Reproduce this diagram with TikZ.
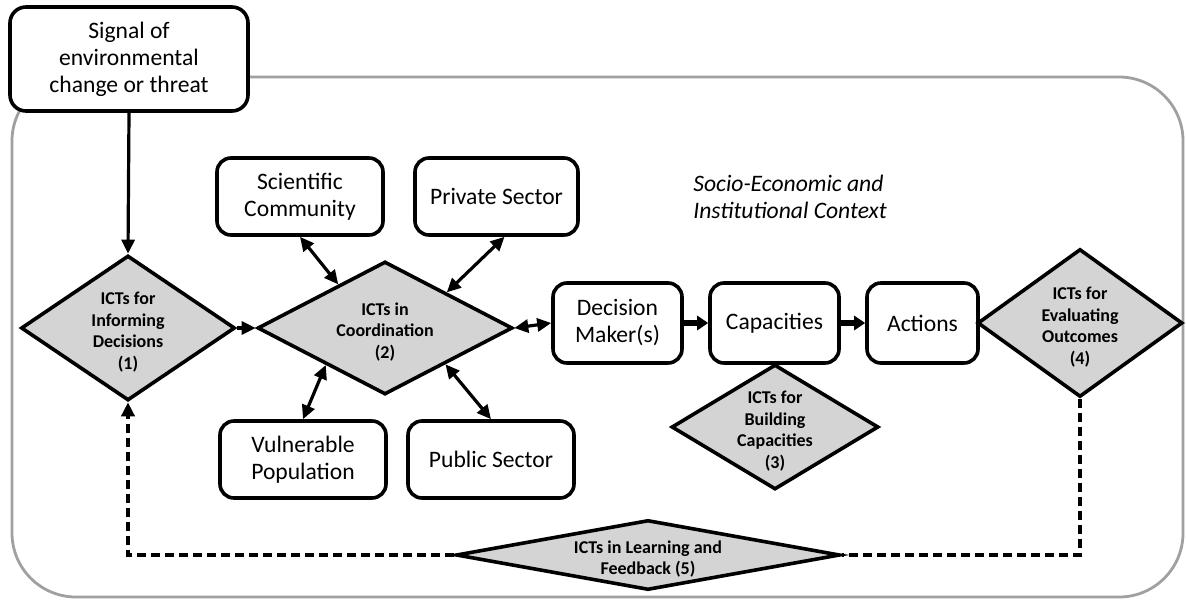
\documentclass[tikz,border=0pt]{standalone}
\usepackage{fontspec}
\setmainfont{Carlito}
\usetikzlibrary{shapes.geometric,arrows.meta}

\definecolor{diagray}{RGB}{212,212,212}
\definecolor{framegray}{RGB}{160,160,160}

% centred multi-line label that does not influence the size of its node
\newcommand{\dialabel}[1]{\smash{\raisebox{-0.5em}{\makebox[0pt]{\begin{tabular}{@{}c@{}}#1\end{tabular}}}}}

\tikzset{
  box/.style={draw, line width=1.8pt, rounded corners=7pt, fill=white, align=center,
    inner sep=2pt, font=\fontsize{11.8}{13.5}\selectfont},
  dia/.style={diamond, draw, line width=1.8pt, fill=diagray, inner sep=0pt,
    font=\fontsize{9}{10.8}\selectfont\bfseries},
  link/.style={line width=1.6pt, {Triangle[length=7pt,width=6.5pt]}-{Triangle[length=7pt,width=6.5pt]}},
  flow/.style={line width=1.6pt, -{Triangle[length=7pt,width=6.5pt]}},
  thickflow/.style={line width=2.6pt, -{Triangle[length=5.5pt,width=7pt]}},
  feedback/.style={line width=1.8pt, dash pattern=on 4.5pt off 2.5pt},
  frame/.style={draw=framegray, line width=1.4pt, rounded corners=32pt},
}

\begin{document}
\begin{tikzpicture}[x=0.5pt, y=-0.5pt]
  \useasboundingbox (0,0) rectangle (1186,599);

  % context frame
  \draw[frame] (12,77) rectangle (1183,597);

  % signal
  \node[box, minimum width=119pt, minimum height=52pt, rounded corners=8pt] (sig) at (129,59)
    {Signal of\\environmental\\change or threat};

  % context label
  \node[font=\fontsize{11.8}{13.5}\selectfont\itshape, align=left, anchor=west, inner sep=0pt]
    (ctx) at (693,197) {Socio-Economic and\\Institutional Context};

  % actors around coordination
  \node[box, minimum width=83pt, minimum height=38.5pt] (sc)  at (300,196.5) {Scientific\\Community};
  \node[box, minimum width=81.5pt, minimum height=38.5pt] (pr) at (496.5,196.5) {Private Sector};
  \node[box, minimum width=83pt, minimum height=38.5pt] (vp)  at (303,459.5) {Vulnerable\\Population};
  \node[box, minimum width=83pt, minimum height=38.5pt] (pub) at (491,459.5) {Public Sector};

  % decision chain
  \node[box, minimum width=64.5pt, minimum height=40pt] (dm)  at (617.5,323) {Decision\\Maker(s)};
  \node[box, minimum width=64.5pt, minimum height=40pt] (cap) at (774.5,323) {Capacities};
  \node[box, minimum width=55.5pt, minimum height=40pt] (act) at (922.5,323) {Actions};

  % ICT entry points
  \node[dia, minimum width=107pt, minimum height=72.5pt] (d1) at (128,328)
    {\dialabel{ICTs for\\Informing\\Decisions\\(1)}};
  \node[dia, minimum width=127.5pt, minimum height=66.5pt] (d2) at (385,328)
    {\dialabel{ICTs in\\Coordination\\(2)}};
  \node[dia, minimum width=103.5pt, minimum height=62.5pt] (d3) at (775,427)
    {\dialabel{ICTs for\\Building\\Capacities\\(3)}};
  \node[dia, minimum width=102.5pt, minimum height=74pt] (d4) at (1080,323)
    {\dialabel{ICTs for\\Evaluating\\Outcomes\\(4)}};
  \node[dia, minimum width=192pt, minimum height=35pt] (d5) at (648,555)
    {\dialabel{ICTs in Learning and\\Feedback (5)}};

  % connectors
  \draw[flow] (sig.south) -- (d1.north);
  \draw[flow] (d1.east) -- (d2.west);
  \draw[link] (sc.south) -- (d2.137);
  \draw[link] ([xshift=4pt]pr.south) -- (d2.30);
  \draw[link] (vp.north) -- (d2.212);
  \draw[link] (pub.north) -- (d2.329);
  \draw[link] (d2.east) -- (dm.west);
  \draw[thickflow] (dm.east) -- (cap.west);
  \draw[thickflow] (cap.east) -- (act.west);

  % learning loop
  \draw[feedback] (d4.south) |- (d5.east);
  \draw[feedback, -{Triangle[length=7pt,width=6.5pt]}] (d5.west) -| (d1.south);
\end{tikzpicture}
\end{document}
